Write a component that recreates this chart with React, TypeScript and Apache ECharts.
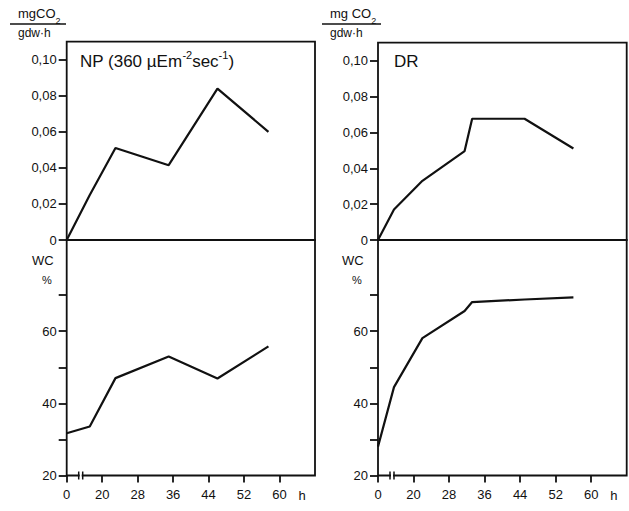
import React, { useEffect, useRef } from "react";
import * as echarts from "echarts";

// ---- data ----
const npHours = [0, 13, 23, 35, 46, 57.5];
const npRate = [0, 0.025, 0.051, 0.0415, 0.084, 0.06];
const npWC = [31.7, 33.6, 47.0, 53.0, 46.9, 55.8];

const drHours = [0, 9, 22, 31.5, 33.2, 45, 56];
const drRate = [0, 0.017, 0.033, 0.0496, 0.0676, 0.0676, 0.051];
const drWC = [28, 44.5, 58.1, 65.6, 68.1, 68.8, 69.4];

const hourTicks = [0, 20, 28, 36, 44, 52, 60];
const rateTicks = [0, 0.02, 0.04, 0.06, 0.08, 0.1];
const wcTicks = [20, 30, 40, 50, 60, 70];
const wcLabels = [20, 40, 60];

// broken time axis: 0..20 h compressed into one 8-h interval
function toAxis(h: number) {
  return h < 20 ? 12 + (h * 8) / 20 : h;
}
function axisLabelText(v: number) {
  return v <= 12.001 ? "0" : String(Math.round(v));
}

const FONT = "Liberation Sans, Arial, sans-serif";
const BLACK = "#111";

export default function App() {
  const ref = useRef<HTMLDivElement>(null);

  useEffect(() => {
    document.body.style.margin = "0";
    if (!ref.current) return;
    const chart = echarts.init(ref.current, undefined, { renderer: "svg" });

    const grids = [
      { left: 66.7, top: 41.7, width: 248.3, height: 198.3 },
      { left: 66.7, top: 240, width: 248.3, height: 235.5 },
      { left: 378, top: 42.7, width: 248.7, height: 197.3 },
      { left: 378, top: 240, width: 248.7, height: 235.5 },
    ].map((g) => ({ ...g, show: true, borderColor: BLACK, borderWidth: 1.8, backgroundColor: "transparent" }));

    const xTickVals = hourTicks.map(toAxis);
    const xAxis = [0, 1, 2, 3].map((i) => {
      const bottom = i % 2 === 1;
      return {
        type: "value",
        gridIndex: i,
        min: 12,
        max: 68,
        interval: 8,
        axisLine: { show: false },
        splitLine: { show: false },
        axisTick: bottom
          ? { show: true, inside: false, length: 7, customValues: xTickVals, lineStyle: { color: BLACK, width: 1.8 } }
          : { show: false },
        axisLabel: bottom
          ? { show: true, customValues: xTickVals, formatter: axisLabelText, color: BLACK, fontSize: 13, fontFamily: FONT, margin: 12 }
          : { show: false },
      };
    });

    const yAxis = [0, 1, 2, 3].map((i) => {
      const rate = i % 2 === 0;
      return {
        type: "value",
        gridIndex: i,
        min: rate ? 0 : 20,
        max: rate ? 0.11 : 85.3,
        axisLine: { show: false },
        splitLine: { show: false },
        axisTick: {
          show: true,
          inside: false,
          length: 8,
          customValues: rate ? rateTicks : wcTicks,
          lineStyle: { color: BLACK, width: 1.8 },
        },
        axisLabel: {
          show: true,
          customValues: rate ? rateTicks : wcLabels,
          formatter: rate
            ? (v: number) => (v === 0 ? "0" : v.toFixed(2).replace(".", ","))
            : (v: number) => String(v),
          color: BLACK,
          fontSize: 13,
          fontFamily: FONT,
          margin: 10,
        },
      };
    });

    const mk = (hours: number[], vals: number[], idx: number) => ({
      type: "line",
      xAxisIndex: idx,
      yAxisIndex: idx,
      data: hours.map((h, k) => [toAxis(h), vals[k]]),
      symbol: "none",
      lineStyle: { color: BLACK, width: 2.2 },
      silent: true,
    });

    chart.setOption({
      animation: false,
      backgroundColor: "#fff",
      grid: grids,
      xAxis,
      yAxis,
      series: [mk(npHours, npRate, 0), mk(npHours, npWC, 1), mk(drHours, drRate, 2), mk(drHours, drWC, 3)],
    });

    const txt = (x: number, y: number, text: string, size = 13, extra: any = {}) => ({
      type: "text",
      x,
      y,
      style: { text, fill: BLACK, font: `${size}px ${FONT}`, textVerticalAlign: "top", ...extra },
    });

    const graphics: any[] = [];
    // unit labels
    const unit = (x0: number, lineEnd: number, sep: string) => {
      graphics.push({
        type: "text",
        x: x0 + 8,
        y: 7,
        style: {
          text: `{b|mg${sep}CO}{s|2}`,
          fill: BLACK,
          rich: {
            b: { fontSize: 13, fontFamily: FONT, lineHeight: 18, verticalAlign: "top", fill: BLACK },
            s: { fontSize: 9, fontFamily: FONT, lineHeight: 10, verticalAlign: "bottom", fill: BLACK },
          },
        },
      });
      graphics.push({ type: "line", shape: { x1: x0, y1: 24, x2: lineEnd, y2: 24 }, style: { stroke: BLACK, lineWidth: 1.5 } });
      graphics.push(txt(x0 + 8, 27, "gdw·h", 12));
    };
    unit(10, 66, "");
    unit(322, 381, " ");

    // panel titles
    graphics.push({
      type: "text",
      x: 80,
      y: 49,
      style: {
        text: "{b|NP (360 µEm}{s|-2}{b|sec}{s|-1}{b|)}",
        fill: BLACK,
        rich: {
          b: { fontSize: 17, fontFamily: FONT, lineHeight: 21, verticalAlign: "bottom", fill: BLACK },
          s: { fontSize: 11, fontFamily: FONT, lineHeight: 11, verticalAlign: "top", fill: BLACK },
        },
      },
    });
    graphics.push(txt(394, 53, "DR", 17));

    // WC %
    [30, 340].forEach((x) => {
      graphics.push(txt(x + 2, 254, "WC", 13));
      graphics.push(txt(x + 12, 274, "%", 11));
    });

    // break marks and "h"
    [1, 3].forEach((gi) => {
      const p = chart.convertToPixel({ gridIndex: gi } as any, [12, 20]) as number[];
      const y = p[1];
      const xa = p[0] + 12;
      const xb = p[0] + 16;
      graphics.push({ type: "rect", shape: { x: xa + 1, y: y - 2, width: xb - xa - 2, height: 4 }, style: { fill: "#fff" } });
      graphics.push({ type: "line", shape: { x1: xa, y1: y - 4, x2: xa, y2: y + 4 }, style: { stroke: BLACK, lineWidth: 1.5 } });
      graphics.push({ type: "line", shape: { x1: xb, y1: y - 4, x2: xb, y2: y + 4 }, style: { stroke: BLACK, lineWidth: 1.5 } });
      const ph = chart.convertToPixel({ gridIndex: gi } as any, [60, 20]) as number[];
      graphics.push(txt(ph[0] + 19, y + 13.5, "h", 13));
    });

    chart.setOption({ graphic: graphics });

    return () => chart.dispose();
  }, []);

  return <div ref={ref} style={{ width: 629, height: 511 }} />;
}
